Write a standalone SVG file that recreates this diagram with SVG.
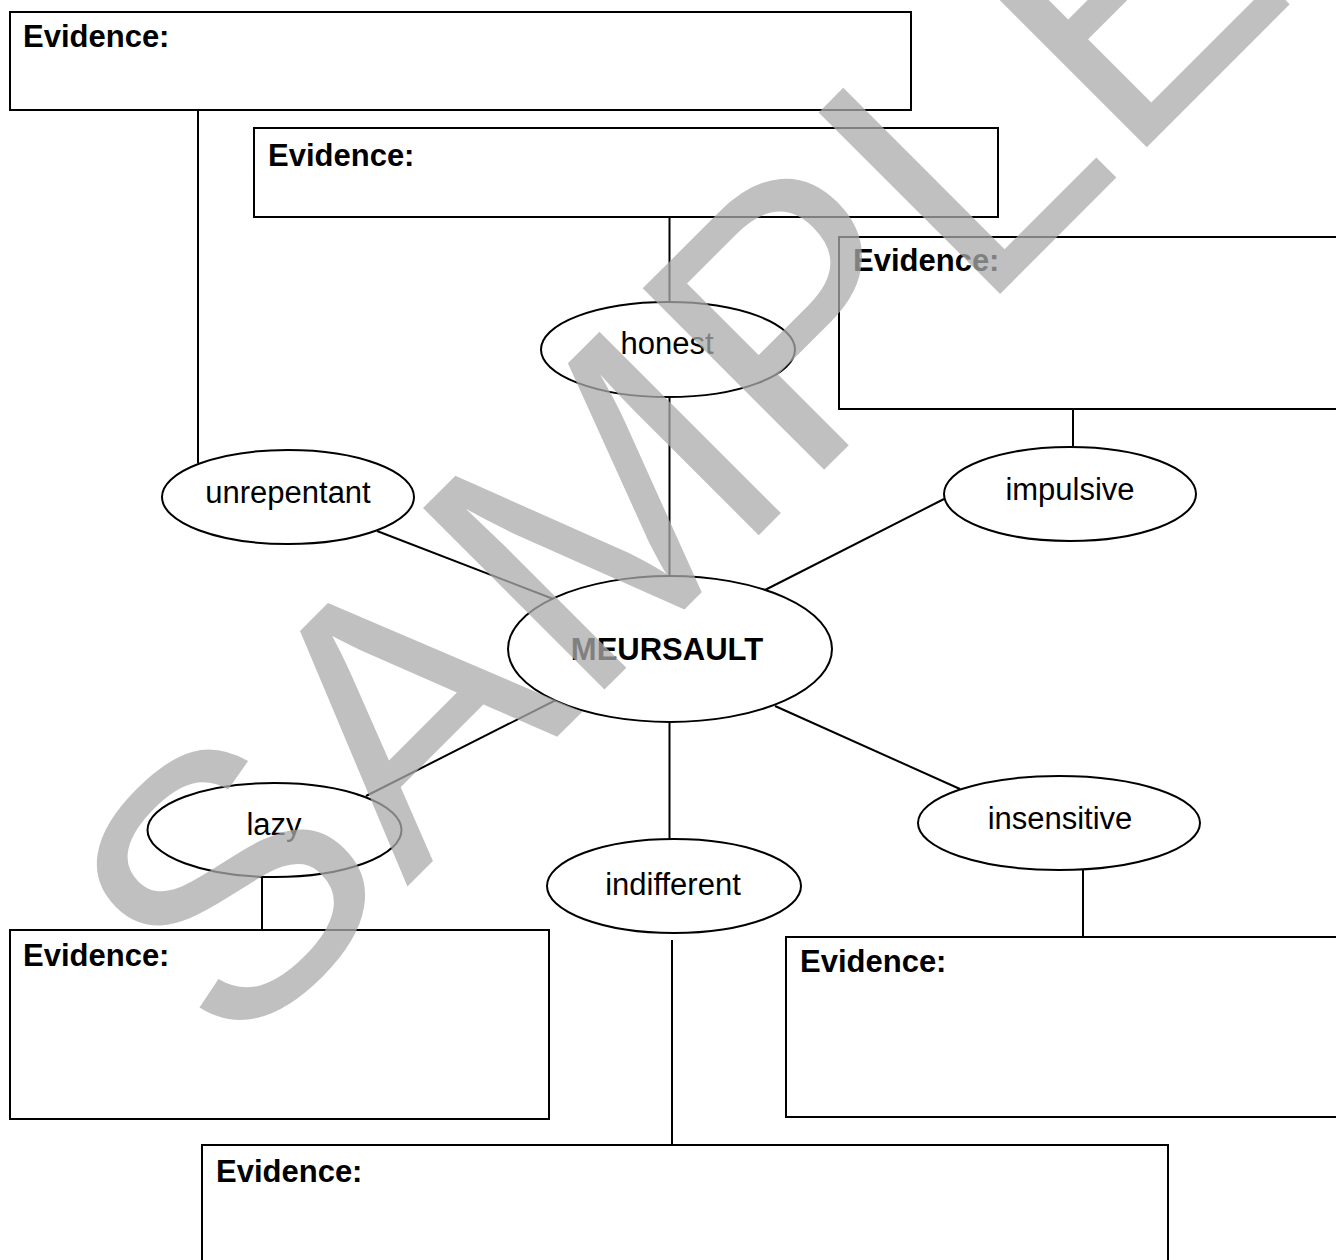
<svg xmlns="http://www.w3.org/2000/svg" width="1336" height="1260" viewBox="0 0 1336 1260">
<style>
.box{fill:#fff;stroke:#000;stroke-width:2}
.ell{fill:#fff;stroke:#000;stroke-width:2}
.con{stroke:#000;stroke-width:2;fill:none}
.ev{font-family:"Liberation Sans",Arial,Helvetica,sans-serif;font-weight:bold;font-size:31px;fill:#000}
.lbl{font-family:"Liberation Sans",Arial,Helvetica,sans-serif;font-size:31px;fill:#000;text-anchor:middle}
.main{font-family:"Liberation Sans",Arial,Helvetica,sans-serif;font-weight:bold;font-size:31px;fill:#000;text-anchor:middle}
.wm{font-family:"Liberation Sans",Arial,Helvetica,sans-serif;font-size:373px;fill:#ababab;fill-opacity:0.75}
</style>
<rect width="1336" height="1260" fill="#fff"/>
<g id="connectors">
<line class="con" x1="198" y1="110" x2="198" y2="463"/>
<line class="con" x1="669.5" y1="217" x2="669.5" y2="302"/>
<line class="con" x1="669.5" y1="397" x2="669.5" y2="576"/>
<line class="con" x1="1073" y1="409" x2="1073" y2="447"/>
<line class="con" x1="377" y1="531" x2="556" y2="600"/>
<line class="con" x1="765" y1="590" x2="944" y2="499"/>
<line class="con" x1="556" y1="700" x2="366" y2="796"/>
<line class="con" x1="669.5" y1="722" x2="669.5" y2="840"/>
<line class="con" x1="775" y1="706" x2="960" y2="789"/>
<line class="con" x1="262" y1="877" x2="262" y2="930"/>
<line class="con" x1="672" y1="940" x2="672" y2="1145"/>
<line class="con" x1="1083" y1="870" x2="1083" y2="937"/>
</g>
<g id="evidence-1"><rect class="box" x="10" y="12" width="901" height="98"/><text class="ev" x="23" y="47">Evidence:</text></g>
<g id="evidence-2"><rect class="box" x="254" y="128" width="744" height="89"/><text class="ev" x="268" y="166">Evidence:</text></g>
<g id="evidence-3"><rect class="box" x="839" y="237" width="510" height="172"/><text class="ev" x="853" y="271">Evidence:</text></g>
<g id="evidence-4"><rect class="box" x="10" y="930" width="539" height="189"/><text class="ev" x="23" y="966">Evidence:</text></g>
<g id="evidence-5"><rect class="box" x="786" y="937" width="560" height="180"/><text class="ev" x="800" y="972">Evidence:</text></g>
<g id="evidence-6"><rect class="box" x="202" y="1145" width="966" height="130"/><text class="ev" x="216" y="1182">Evidence:</text></g>
<g id="honest"><ellipse class="ell" cx="668" cy="349.5" rx="127" ry="47.5"/><text class="lbl" x="667" y="354">honest</text></g>
<g id="unrepentant"><ellipse class="ell" cx="288" cy="497" rx="126" ry="47"/><text class="lbl" x="288" y="503">unrepentant</text></g>
<g id="impulsive"><ellipse class="ell" cx="1070" cy="494" rx="126" ry="47"/><text class="lbl" x="1070" y="500">impulsive</text></g>
<g id="meursault"><ellipse class="ell" cx="670" cy="649" rx="162" ry="73"/><text class="main" x="667" y="660">MEURSAULT</text></g>
<g id="lazy"><ellipse class="ell" cx="274.5" cy="830" rx="127" ry="47"/><text class="lbl" x="274" y="835">lazy</text></g>
<g id="indifferent"><ellipse class="ell" cx="674" cy="886" rx="127" ry="47"/><text class="lbl" x="673" y="895">indifferent</text></g>
<g id="insensitive"><ellipse class="ell" cx="1059" cy="823" rx="141" ry="47"/><text class="lbl" x="1060" y="829">insensitive</text></g>
<text class="wm" x="0" y="0" transform="translate(231,1063) rotate(-45)">SAMPLE</text>
</svg>
